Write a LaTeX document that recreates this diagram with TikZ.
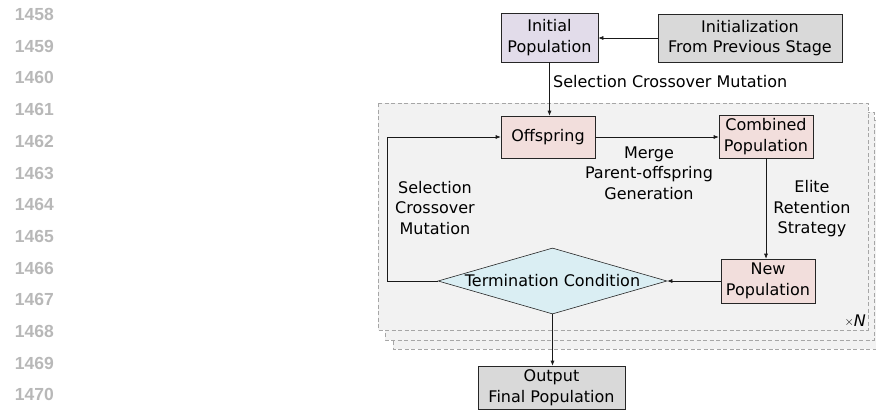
\documentclass[tikz,border=0pt]{standalone}
\usepackage{fontspec}
\setmainfont{DejaVu Sans}
\newfontfamily\numfont{Liberation Sans}
\usetikzlibrary{shapes.geometric,arrows.meta}
\definecolor{lav}{HTML}{E2DCEA}
\definecolor{pinkish}{HTML}{F2DEDC}
\definecolor{grayfill}{HTML}{D9D9D9}
\definecolor{bluefill}{HTML}{DAEEF3}
\definecolor{panel}{HTML}{F2F2F2}
\definecolor{panelline}{HTML}{A6A6A6}
\definecolor{numgray}{HTML}{B8B8B8}
\begin{document}
\begin{tikzpicture}[x=1pt,y=-1pt,
  txt/.style={font=\fontsize{16}{20.5}\selectfont, align=center, inner sep=0pt},
  box/.style={txt, draw=black!85, line width=0.6pt},
  arr/.style={draw=black!90, line width=0.6pt, -{Latex[length=5pt,width=4pt]}},
  layer/.style={fill=panel, draw=panelline, dashed, dash pattern=on 4pt off 2.5pt, line width=0.6pt},
  lnum/.style={font=\numfont\bfseries\fontsize{17.5}{17.5}\selectfont, text=numgray, anchor=east, inner sep=0pt}
]
\useasboundingbox (0,0) rectangle (876,412);
% line numbers
\foreach \n [count=\i from 0] in {1458,...,1470}
  \node[lnum] (ln\n) at (54, 14.5+31.7*\i) {\n};
% stacked layers
\draw[layer] (393,120) rectangle (884,349);
\draw[layer] (385,112) rectangle (874,340);
\draw[layer] (378,103) rectangle (868,330);
% nodes
\node[box, fill=lav, minimum width=97pt, minimum height=49pt] (initpop) at (549.5,37.5) {Initial\\Population};
\node[box, fill=grayfill, minimum width=184pt, minimum height=48pt] (prev) at (750,38) {Initialization\\From Previous Stage};
\node[box, fill=pinkish, minimum width=94pt, minimum height=42pt] (off) at (548,137) {Offspring};
\node[box, fill=pinkish, minimum width=94pt, minimum height=43pt] (comb) at (766,136.5) {Combined\\Population};
\node[box, fill=pinkish, minimum width=94pt, minimum height=44pt] (newp) at (768,281) {New\\Population};
\node[txt, shape=diamond, draw=black!85, line width=0.6pt, fill=bluefill, aspect=3.47, minimum width=229pt, minimum height=66pt] (term) at (552.5,281) {Termination Condition};
\node[box, fill=grayfill, minimum width=147pt, minimum height=43pt] (out) at (551.5,387.5) {Output\\Final Population};
% labels
\node[txt, anchor=west] (lsel) at (553,82) {Selection Crossover Mutation};
\node[txt, anchor=south east] (times) at (866,327) {\raisebox{1.5pt}{\fontsize{13}{13}\selectfont$\times$}\textit{N}};
\node[txt] (lmerge) at (649,173) {Merge\\Parent-offspring\\Generation};
\node[txt] (lelite) at (812,209) {Elite\\Retention\\Strategy};
\node[txt] (lloop) at (435,208) {Selection\\Crossover\\Mutation};
% connectors
\draw[arr] (prev.west) -- (prev.west -| initpop.east);
\draw[arr] (initpop.south) -- (initpop.south |- off.north);
\draw[arr] (off.east) -- (off.east -| comb.west);
\draw[arr] (comb.south) -- (comb.south |- newp.north);
\draw[arr] (newp.west) -- (term.east);
\coordinate (loopc) at (387,281);
\draw[arr] (term.west) -- (loopc) |- (off.west);
\draw[arr] (term.south) -- (term.south |- out.north);
\end{tikzpicture}
\end{document}
